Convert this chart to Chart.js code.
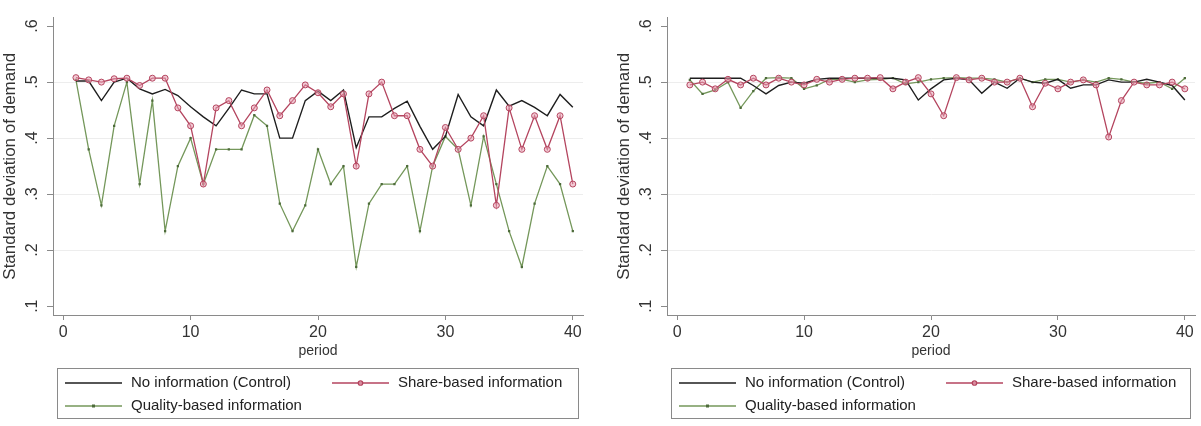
<!DOCTYPE html>
<html>
<head>
<meta charset="utf-8">
<script src="https://cdn.jsdelivr.net/npm/chart.js@4.4.0/dist/chart.umd.min.js"></script>
<style>
    body { margin: 0; background: #fff; width: 1201px; height: 426px; overflow: hidden; position: relative; }
    .panel { position: absolute; top: 0; height: 426px; }
    #left { left: 0; width: 600px; }
    #right { left: 614px; width: 587px; }
</style>
</head>
<body>
<div class="panel" id="left"><canvas id="chartLeft" width="600" height="426"></canvas></div>
<div class="panel" id="right"><canvas id="chartRight" width="587" height="426"></canvas></div>
<script>
// periods 1..40
const periods = [1, 2, 3, 4, 5, 6, 7, 8, 9, 10, 11, 12, 13, 14, 15, 16, 17, 18, 19, 20,
    21, 22, 23, 24, 25, 26, 27, 28, 29, 30, 31, 32, 33, 34, 35, 36, 37, 38, 39, 40];

// left panel
const leftControl = [0.502, 0.502, 0.467, 0.500, 0.507, 0.488, 0.479, 0.487, 0.476, 0.456,
    0.438, 0.422, 0.453, 0.486, 0.479, 0.479, 0.400, 0.400, 0.467, 0.484,
    0.467, 0.486, 0.383, 0.438, 0.438, 0.453, 0.466, 0.421, 0.380, 0.403,
    0.478, 0.438, 0.422, 0.486, 0.457, 0.467, 0.455, 0.440, 0.478, 0.455];
const leftShare = [0.508, 0.504, 0.500, 0.506, 0.507, 0.494, 0.507, 0.507, 0.454, 0.422,
    0.318, 0.454, 0.467, 0.422, 0.454, 0.486, 0.440, 0.467, 0.495, 0.481,
    0.456, 0.479, 0.350, 0.479, 0.500, 0.440, 0.440, 0.380, 0.350, 0.419,
    0.380, 0.400, 0.440, 0.280, 0.454, 0.380, 0.440, 0.380, 0.440, 0.318];
const leftQuality = [0.504, 0.380, 0.280, 0.422, 0.500, 0.318, 0.467, 0.234, 0.350, 0.400,
    0.318, 0.380, 0.380, 0.380, 0.441, 0.422, 0.283, 0.234, 0.280, 0.380,
    0.318, 0.350, 0.170, 0.283, 0.318, 0.318, 0.350, 0.234, 0.350, 0.403,
    0.380, 0.280, 0.403, 0.318, 0.234, 0.170, 0.283, 0.350, 0.318, 0.234];

// right panel
const rightControl = [0.507, 0.507, 0.507, 0.507, 0.507, 0.494, 0.479, 0.494, 0.500, 0.498,
    0.505, 0.507, 0.507, 0.507, 0.507, 0.507, 0.507, 0.504, 0.468, 0.488,
    0.504, 0.507, 0.504, 0.480, 0.500, 0.489, 0.507, 0.500, 0.498, 0.505,
    0.489, 0.495, 0.495, 0.504, 0.500, 0.500, 0.505, 0.500, 0.494, 0.468];
const rightShare = [0.495, 0.500, 0.488, 0.505, 0.495, 0.507, 0.495, 0.507, 0.500, 0.495,
    0.505, 0.500, 0.505, 0.507, 0.507, 0.508, 0.488, 0.500, 0.508, 0.479,
    0.440, 0.508, 0.504, 0.507, 0.500, 0.500, 0.507, 0.456, 0.498, 0.488,
    0.500, 0.504, 0.495, 0.402, 0.467, 0.500, 0.495, 0.495, 0.500, 0.488];
const rightQuality = [0.504, 0.479, 0.486, 0.500, 0.454, 0.484, 0.507, 0.508, 0.507, 0.488,
    0.494, 0.505, 0.505, 0.500, 0.504, 0.505, 0.507, 0.497, 0.500, 0.505,
    0.507, 0.508, 0.507, 0.507, 0.505, 0.500, 0.507, 0.500, 0.505, 0.505,
    0.500, 0.504, 0.500, 0.507, 0.505, 0.500, 0.498, 0.500, 0.488, 0.507];

const seriesNames = ['No information (Control)', 'Share-based information', 'Quality-based information'];
const yTickValues = [0.1, 0.2, 0.3, 0.4, 0.5, 0.6];
const yTickLabels = ['.1', '.2', '.3', '.4', '.5', '.6'];
const xTickValues = [0, 10, 20, 30, 40];
const xTickLabels = ['0', '10', '20', '30', '40'];

const FONT = "'Liberation Sans', Arial, sans-serif";
const COL_BLACK = '#1e1e1e';
const COL_RED = '#b4455f';
const COL_RED_FILL = 'rgba(232, 160, 178, 0.55)';
const COL_GREEN = '#74975a';
const COL_GREEN_DOT = '#4d6b3a';

function toPoints(values) {
    return values.map((v, i) => ({ x: periods[i], y: v }));
}

// legend box drawn in the bottom padding, Stata style
const stataLegend = {
    id: 'stataLegend',
    afterDraw(chart) {
        const c = chart.ctx;
        const ca = chart.chartArea;
        const left = ca.left + 4, right = ca.right - 5;
        const top = ca.bottom + 53, bottom = ca.bottom + 103;
        c.save();
        c.strokeStyle = '#8a8a8a';
        c.lineWidth = 1;
        c.strokeRect(left + 0.5, top + 0.5, right - left, bottom - top);

        const items = [
            { name: seriesNames[0], x: left + 8, y: top + 15, color: COL_BLACK, mark: null },
            { name: seriesNames[1], x: left + 275, y: top + 15, color: COL_RED, mark: 'circle' },
            { name: seriesNames[2], x: left + 8, y: top + 38, color: COL_GREEN, mark: 'rect' }
        ];
        items.forEach(it => {
            c.strokeStyle = it.color;
            c.lineWidth = 1.3;
            c.beginPath();
            c.moveTo(it.x, it.y);
            c.lineTo(it.x + 57, it.y);
            c.stroke();
            const mx = it.x + 28.5;
            if (it.mark === 'circle') {
                c.fillStyle = COL_RED_FILL;
                c.beginPath();
                c.arc(mx, it.y, 2.2, 0, Math.PI * 2);
                c.fill();
                c.stroke();
            } else if (it.mark === 'rect') {
                c.fillStyle = COL_GREEN_DOT;
                c.fillRect(mx - 1.5, it.y - 1.5, 3, 3);
            }
            c.fillStyle = '#222';
            c.font = '15px ' + FONT;
            c.textBaseline = 'middle';
            c.textAlign = 'left';
            c.fillText(it.name, it.x + 66, it.y);
        });
        c.restore();
    }
};

function makeChart(canvasId, control, share, quality, padRight) {
    const ctx = document.getElementById(canvasId).getContext('2d');
    return new Chart(ctx, {
        type: 'line',
        data: {
            datasets: [
                {
                    label: seriesNames[0],
                    data: toPoints(control),
                    borderColor: COL_BLACK,
                    borderWidth: 1.4,
                    pointRadius: 0,
                    tension: 0,
                    order: 1
                },
                {
                    label: seriesNames[1],
                    data: toPoints(share),
                    borderColor: COL_RED,
                    borderWidth: 1.3,
                    pointStyle: 'circle',
                    pointRadius: 3,
                    pointBorderWidth: 1,
                    pointBorderColor: COL_RED,
                    pointBackgroundColor: COL_RED_FILL,
                    tension: 0,
                    order: 0
                },
                {
                    label: seriesNames[2],
                    data: toPoints(quality),
                    borderColor: COL_GREEN,
                    borderWidth: 1.3,
                    pointStyle: 'rect',
                    pointRadius: 1.6,
                    pointBorderWidth: 0,
                    pointBackgroundColor: COL_GREEN_DOT,
                    tension: 0,
                    order: 2
                }
            ]
        },
        options: {
            responsive: false,
            animation: false,
            layout: { padding: { top: 12, right: padRight, bottom: 66, left: 0 } },
            plugins: {
                legend: { display: false },
                tooltip: { enabled: false }
            },
            scales: {
                x: {
                    type: 'linear',
                    min: -0.8,
                    max: 40.8,
                    afterBuildTicks: s => { s.ticks = xTickValues.map(v => ({ value: v })); },
                    afterFit: s => { s.height = 45; },
                    border: { color: '#8a8a8a', width: 1 },
                    grid: { drawOnChartArea: false, tickLength: 5, tickColor: '#8a8a8a' },
                    ticks: {
                        padding: 3,
                        color: '#333',
                        font: { family: FONT, size: 16 },
                        maxRotation: 0,
                        callback: (v, i) => xTickLabels[i]
                    },
                    title: {
                        display: true,
                        text: 'period',
                        color: '#333',
                        font: { family: FONT, size: 14 },
                        padding: { top: 0, bottom: 0 }
                    }
                },
                y: {
                    min: 0.0842,
                    max: 0.6152,
                    afterBuildTicks: s => { s.ticks = yTickValues.map(v => ({ value: v })); },
                    afterFit: s => { s.width = 53; },
                    border: { color: '#8a8a8a', width: 1 },
                    grid: {
                        tickLength: 6,
                        tickColor: '#8a8a8a',
                        color: c => (c.tick && c.tick.value > 0.15 && c.tick.value < 0.55) ? '#ededed' : 'rgba(0,0,0,0)',
                        lineWidth: 1
                    },
                    ticks: {
                        padding: 8,
                        color: '#333',
                        minRotation: 90,
                        maxRotation: 90,
                        crossAlign: 'center',
                        font: { family: FONT, size: 16 },
                        callback: (v, i) => yTickLabels[i]
                    },
                    title: {
                        display: true,
                        text: 'Standard deviation of demand',
                        color: '#333',
                        font: { family: FONT, size: 17 },
                        padding: { top: 0, bottom: 0 }
                    }
                }
            }
        },
        plugins: [stataLegend]
    });
}

makeChart('chartLeft', leftControl, leftShare, leftQuality, 17);
makeChart('chartRight', rightControl, rightShare, rightQuality, 6);
</script>
</body>
</html>
